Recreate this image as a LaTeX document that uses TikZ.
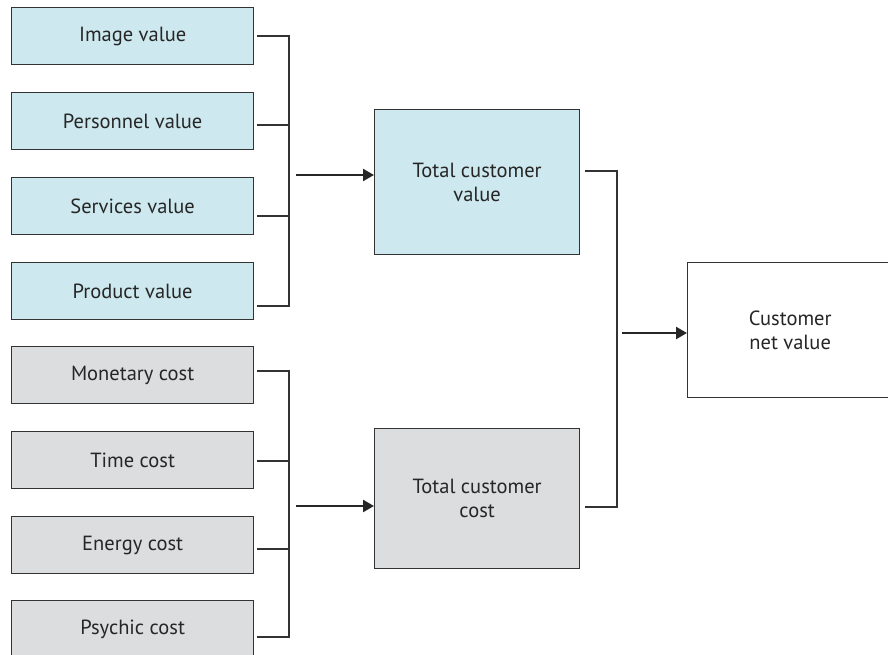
\documentclass[tikz,border=0pt]{standalone}
\usepackage{fontspec}
\setmainfont{PT Sans}
\usetikzlibrary{arrows.meta}
\definecolor{valfill}{HTML}{CDE8EE}
\definecolor{costfill}{HTML}{DCDDDF}
\definecolor{edge}{HTML}{333333}
\begin{document}
\begin{tikzpicture}[x=1pt,y=-1pt,
  box/.style={draw=edge,line width=1.3pt,inner sep=0pt,anchor=north west,
    font=\fontsize{20.5}{24}\selectfont,text=black!85,align=center},
  small/.style={box,minimum width=242pt,minimum height=57pt},
  big/.style={box,minimum width=205pt},
  link/.style={draw=edge,line width=1.1pt},
  flow/.style={draw=black!85,line width=2.4pt,-{Triangle[length=11pt,width=12pt]}}]
\useasboundingbox (0,0) rectangle (888,655);
% value drivers
\node[small,fill=valfill] (iv) at (11,7) {Image value};
\node[small,fill=valfill] (pv) at (11,92) {Personnel value};
\node[small,fill=valfill] (sv) at (11,177) {Services value};
\node[small,fill=valfill] (prv) at (11,262) {Product value};
% cost drivers
\node[small,fill=costfill] (mc) at (11,346) {Monetary cost};
\node[small,fill=costfill] (tc) at (11,431) {Time cost};
\node[small,fill=costfill] (ec) at (11,516) {Energy cost};
\node[small,fill=costfill] (pc) at (11,600) {Psychic cost};
% totals
\node[big,fill=valfill,minimum height=145pt] (tv) at (374,109) {Total customer\\value};
\node[big,fill=costfill,minimum height=140pt] (tcc) at (374,428) {Total customer\\cost};
\node[box,fill=white,minimum width=205pt,minimum height=135pt] (nv) at (687,262) {Customer\\net value};
% bracket joins on the value side
\coordinate (v1) at (257,36);  \coordinate (v2) at (257,125);
\coordinate (v3) at (257,216); \coordinate (v4) at (257,306);
\draw[link] (v1) -| (289,306) -- (v4);
\draw[link] (v2) -- (289,125);
\draw[link] (v3) -- (289,216);
% bracket joins on the cost side
\coordinate (c1) at (257,371); \coordinate (c2) at (257,461);
\coordinate (c3) at (257,549); \coordinate (c4) at (257,637);
\draw[link] (c1) -| (289,637) -- (c4);
\draw[link] (c2) -- (289,461);
\draw[link] (c3) -- (289,549);
% arrows into the totals
\coordinate (va) at (296,175);
\coordinate (ca) at (296,506);
\draw[flow] (va) -- (va -| tv.west);
\draw[flow] (ca) -- (ca -| tcc.west);
% join of the two totals
\coordinate (t1) at (585,171);
\coordinate (t2) at (585,507);
\draw[link] (t1) -| (617,507) -- (t2);
\coordinate (na) at (622,333);
\draw[flow] (na) -- (na -| nv.west);
\end{tikzpicture}
\end{document}
